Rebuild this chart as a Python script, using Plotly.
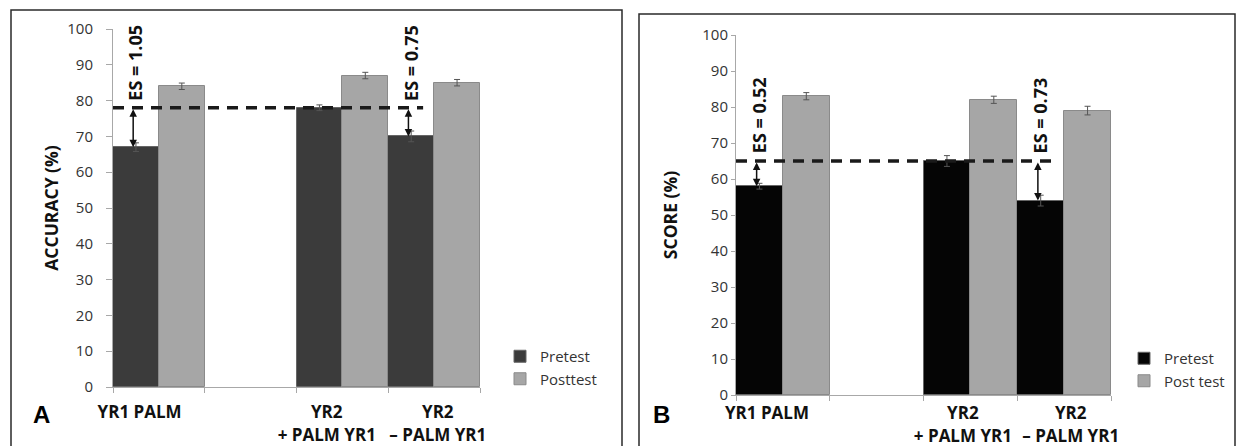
import plotly.graph_objects as go

# ---------------- data ----------------
categories = ["YR1 PALM", "", "YR2<br>+ PALM YR1", "YR2<br>– PALM YR1"]
names_a = ["Pretest", "Posttest"]
names_b = ["Pretest", "Post test"]

acc_pre = [67, None, 78, 70]
acc_pre_err = [1.2, None, 0.8, 1.5]
acc_post = [84, None, 87, 85]
acc_post_err = [0.9, None, 0.9, 0.9]

score_pre = [58, None, 65, 54]
score_pre_err = [0.8, None, 1.5, 1.5]
score_post = [83, None, 82, 79]
score_post_err = [1.0, None, 1.0, 1.2]

acc_es = ["ES = 1.05", "ES = 0.75"]
score_es = ["ES = 0.52", "ES = 0.73"]
es_index = [0, 3]          # which categories carry an effect-size arrow
ref_index = 2              # category whose pretest defines the dashed reference
y_ticks = [0, 10, 20, 30, 40, 50, 60, 70, 80, 90, 100]

# ---------------- figure ----------------
W, H = 1239, 446
def px(x):
    return x / W
def py(y):
    return 1 - y / H

xpos = list(range(len(categories)))
FONT = "Open Sans"

fig = go.Figure()

def add_panel(pre, pre_err, post, post_err, names, pre_color, xa, ya, leg):
    fig.add_trace(go.Bar(
        x=xpos, y=pre, name=names[0], xaxis=xa, yaxis=ya, legend=leg,
        marker=dict(color=pre_color, line=dict(color="#666666", width=1)),
        error_y=dict(type="data", array=pre_err, color="#555555", thickness=1, width=3),
        offsetgroup="pre"))
    fig.add_trace(go.Bar(
        x=xpos, y=post, name=names[1], xaxis=xa, yaxis=ya, legend=leg,
        marker=dict(color="#a6a6a6", line=dict(color="#8a8a8a", width=1)),
        error_y=dict(type="data", array=post_err, color="#555555", thickness=1, width=3),
        offsetgroup="post"))

add_panel(acc_pre, acc_pre_err, acc_post, acc_post_err, names_a, "#3b3b3b", "x", "y", "legend")
add_panel(score_pre, score_pre_err, score_post, score_post_err, names_b, "#050505", "x2", "y2", "legend2")

axis_line = "#a8a8a8"
tickfont = dict(family=FONT, size=15, color="#333333")
catfont = dict(family=FONT, size=17, color="#111111")

def xaxis_cfg(domain, anchor, label_pos, standoff):
    return dict(
        domain=domain, anchor=anchor, range=[-0.5, 3.5], automargin=False,
        showgrid=False, zeroline=False, showline=True, linecolor=axis_line, linewidth=1,
        tickvals=label_pos, ticktext=["<b>%s</b>" % c for c in categories if c != ""],
        ticks="", tickfont=catfont, tickangle=0, ticklabelstandoff=standoff,
        minor=dict(tick0=-0.5, dtick=1, ticks="outside", ticklen=5, tickcolor=axis_line, showgrid=False),
        fixedrange=True)

def yaxis_cfg(domain, anchor, title, ticklen, standoff, title_standoff):
    return dict(
        domain=domain, anchor=anchor, range=[0, 100], automargin=False,
        tickvals=y_ticks, showgrid=False, zeroline=False,
        showline=True, linecolor=axis_line, linewidth=1,
        ticks="outside", ticklen=ticklen, tickcolor=axis_line, tickfont=tickfont,
        ticklabelstandoff=standoff,
        title=dict(text="<b>%s</b>" % title, font=dict(family=FONT, size=17.5, color="#111111"),
                   standoff=title_standoff),
        fixedrange=True)

legend_font = dict(family=FONT, size=15, color="#333333")

fig.update_layout(
    width=W, height=H, margin=dict(l=0, r=0, t=0, b=0, autoexpand=False),
    paper_bgcolor="white", plot_bgcolor="white",
    barmode="group", bargap=0, bargroupgap=0,
    xaxis=xaxis_cfg([px(113), px(480)], "y", [-0.21, 1.83, 3.04], 10),
    yaxis=yaxis_cfg([py(387), py(29)], "x", "ACCURACY (%)", 6, 10, 4),
    xaxis2=xaxis_cfg([px(736), px(1111)], "y2", [-0.17, 1.92, 3.07], 3),
    yaxis2=yaxis_cfg([py(395), py(35)], "x2", "SCORE (%)", 4, 0, 20),
    legend=dict(x=px(500), y=py(340), xanchor="left", yanchor="top", font=legend_font,
                bgcolor="rgba(0,0,0,0)", itemwidth=30, tracegroupgap=0),
    legend2=dict(x=px(1124), y=py(342), xanchor="left", yanchor="top", font=legend_font,
                 bgcolor="rgba(0,0,0,0)", itemwidth=30, tracegroupgap=0),
    showlegend=True,
)

# dashed reference lines, effect-size arrows and labels
def add_refs(pre, es_texts, xa, ya, text_y):
    ref = pre[ref_index]
    fig.add_shape(type="line", xref=xa, yref=ya, x0=-0.5, x1=2.88, y0=ref, y1=ref,
                  line=dict(color="#1a1a1a", width=3.5, dash="11px,8px"))
    for i, t in zip(es_index, es_texts):
        fig.add_annotation(xref=xa, yref=ya, axref=xa, ayref=ya,
                           x=i - 0.28, y=pre[i], ax=i - 0.28, ay=ref,
                           text="", showarrow=True, arrowhead=2, startarrowhead=2,
                           arrowside="end+start", arrowsize=1, startarrowsize=1,
                           arrowwidth=1.5, arrowcolor="#111111")
        fig.add_annotation(xref=xa, yref=ya, x=i - 0.26, y=text_y, text="<b>%s</b>" % t,
                           textangle=-90, showarrow=False,
                           font=dict(family=FONT, size=18, color="#111111"))

add_refs(acc_pre, acc_es, "x", "y", 90.6)
add_refs(score_pre, score_es, "x2", "y2", 77.6)

# panel frames
fig.add_shape(type="rect", xref="paper", yref="paper", x0=px(11), x1=px(622), y0=-0.2, y1=py(10),
              line=dict(color="#2a2a2a", width=1.5))
fig.add_shape(type="rect", xref="paper", yref="paper", x0=px(639), x1=px(1235), y0=-0.2, y1=py(14),
              line=dict(color="#2a2a2a", width=1.5))

# panel letters
fig.add_annotation(xref="paper", yref="paper", x=px(31), y=py(430), text="<b>A</b>", showarrow=False,
                   font=dict(family="Liberation Sans", size=24, color="#000000"))
fig.add_annotation(xref="paper", yref="paper", x=px(661), y=py(430), text="<b>B</b>", showarrow=False,
                   font=dict(family="Liberation Sans", size=24, color="#000000"))

fig.write_html("out.html", config={"displayModeBar": False},
               post_script="document.body.style.margin='0px';document.body.style.overflow='hidden';")
